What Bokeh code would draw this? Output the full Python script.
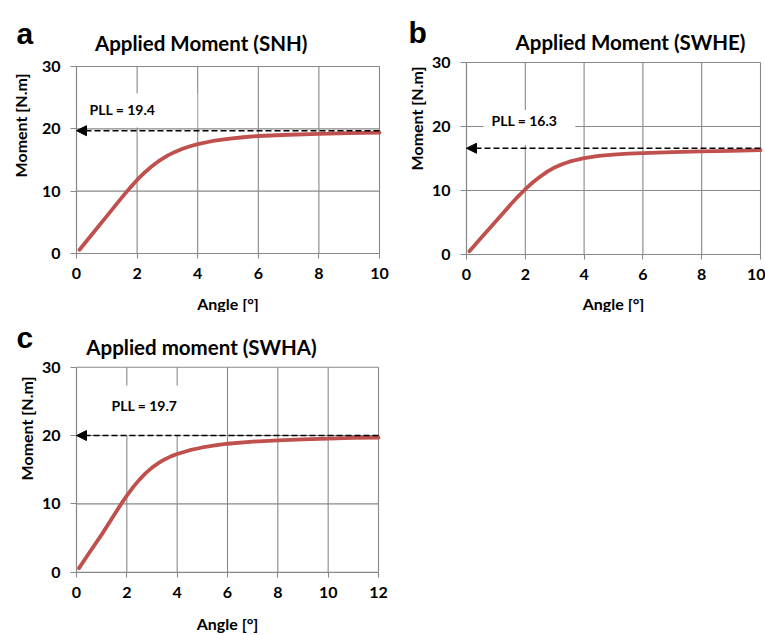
import math
from bokeh.plotting import figure
from bokeh.layouts import row, column
from bokeh.models import Range1d, FixedTicker, Label, Arrow, NormalHead
from bokeh.embed import file_html
from bokeh.resources import INLINE

# ---------------- data ----------------
angle_ab = [0.1, 0.5, 1.0, 1.5, 1.75, 2.0, 2.25, 2.5, 2.75, 3.0, 3.25, 3.5, 3.75, 4.0,
            4.5, 5.0, 5.5, 6.0, 7.0, 8.0, 9.0, 10.0]
moment_snh = [0.6, 3.0, 6.0, 9.0, 10.45, 11.8, 13.0, 14.05, 14.95, 15.7, 16.3, 16.8, 17.2, 17.55,
              18.05, 18.4, 18.65, 18.85, 19.05, 19.2, 19.3, 19.4]
moment_swhe = [0.5, 2.6, 5.2, 7.8, 9.05, 10.2, 11.25, 12.15, 12.95, 13.6, 14.1, 14.5, 14.8, 15.05,
               15.4, 15.6, 15.75, 15.85, 16.0, 16.1, 16.2, 16.3]
angle_c = [0.1, 0.5, 1.0, 1.5, 1.75, 2.0, 2.25, 2.5, 2.75, 3.0, 3.25, 3.5, 3.75, 4.0,
           4.5, 5.0, 5.5, 6.0, 7.0, 8.0, 9.0, 10.0, 11.0, 12.0]
moment_swha = [0.6, 2.8, 5.5, 8.4, 9.85, 11.2, 12.45, 13.55, 14.5, 15.3, 15.95, 16.5, 16.95, 17.3,
               17.85, 18.25, 18.55, 18.8, 19.1, 19.3, 19.45, 19.55, 19.65, 19.7]

panel_letters = ["a", "b", "c"]
titles = ["Applied Moment (SNH)", "Applied Moment (SWHE)", "Applied moment (SWHA)"]
pll_texts = ["PLL = 19.4", "PLL = 16.3", "PLL = 19.7"]
pll_arrow_y = [19.7, 16.6, 20.0]
x_max = [10, 10, 12]
x_ticks_ab = [0, 2, 4, 6, 8, 10]
x_ticks_c = [0, 2, 4, 6, 8, 10, 12]
y_ticks = [0, 10, 20, 30]
y_max = 30
x_label = "Angle [°]"
y_label = "Moment [N.m]"

FONT = "Lato"
GRID = "#888888"
RED = "#C0504D"


def make_panel(xs, ys, idx, xticks, W, H, box, pll_pos, pll_pad,
               title_pos, ylab_pos, letter_pos, tick_standoff, xlab_standoff):
    # box = pixel position of the data area inside this canvas: left, right, top, bottom
    x0, x1, yt, yb = box
    xm = x_max[idx]
    sx = (x1 - x0) / xm
    sy = (yb - yt) / y_max
    p = figure(width=W, height=H, output_backend="svg", toolbar_location=None,
               x_range=Range1d(-x0 / sx, xm + (W - x1) / sx),
               y_range=Range1d(-(H - yb) / sy, y_max + yt / sy),
               min_border=0)
    p.outline_line_color = None
    p.background_fill_color = "white"
    p.border_fill_color = "white"
    p.xgrid.visible = False
    p.ygrid.visible = False

    # grid lines (from the tick lists)
    p.segment(x0=xticks, y0=[0] * len(xticks), x1=xticks, y1=[y_max] * len(xticks),
              line_color=GRID, line_width=1.1)
    p.segment(x0=[0] * len(y_ticks), y0=y_ticks, x1=[xm] * len(y_ticks), y1=y_ticks,
              line_color=GRID, line_width=1.1)

    xa, ya = p.xaxis[0], p.yaxis[0]
    xa.fixed_location = 0
    ya.fixed_location = 0
    xa.bounds = (0, xm)
    ya.bounds = (0, y_max)
    for ax in (xa, ya):
        ax.axis_line_color = GRID
        ax.axis_line_width = 1.1
        ax.major_tick_line_color = GRID
        ax.major_tick_line_width = 1.1
        ax.major_tick_in = 0
        ax.minor_tick_line_color = None
        ax.major_label_text_font = FONT
        ax.major_label_text_font_style = "bold"
        ax.major_label_text_font_size = "16px"
        ax.major_label_text_color = "black"
    xa.ticker = FixedTicker(ticks=xticks)
    ya.ticker = FixedTicker(ticks=y_ticks)
    xa.major_tick_out = 5
    ya.major_tick_out = 6
    xa.major_label_standoff = tick_standoff
    ya.major_label_standoff = 10
    xa.axis_label = x_label
    xa.axis_label_text_font = FONT
    xa.axis_label_text_font_style = "bold"
    xa.axis_label_text_font_size = "16px"
    xa.axis_label_text_color = "black"
    xa.axis_label_standoff = xlab_standoff

    # curve
    p.line(xs, ys, line_color=RED, line_width=3.8, line_cap="round", line_join="round")

    # PLL label with white box
    p.add_layout(Label(x=pll_pos[0], y=pll_pos[1], x_units="screen", y_units="screen",
                       text=pll_texts[idx], text_color="black",
                       text_font=FONT, text_font_style="bold", text_font_size="14px",
                       text_align="left", text_baseline="middle",
                       background_fill_color="white", padding=pll_pad))

    # dashed arrow
    p.add_layout(Arrow(x_start=xm, y_start=pll_arrow_y[idx], x_end=0, y_end=pll_arrow_y[idx],
                       line_color="black", line_width=1.6, line_dash="6 3",
                       end=NormalHead(size=10, fill_color="black", line_color="black", line_width=1)))

    # title
    p.add_layout(Label(x=title_pos[0], y=title_pos[1], x_units="screen", y_units="screen",
                       text=titles[idx], text_color="black", text_font=FONT, text_font_style="bold",
                       text_font_size="20.5px", text_align="center", text_baseline="middle"))
    # y axis title
    p.add_layout(Label(x=ylab_pos[0], y=ylab_pos[1], x_units="screen", y_units="screen",
                       text=y_label, angle=math.pi / 2, text_color="black", text_font=FONT,
                       text_font_style="bold", text_font_size="16px",
                       text_align="center", text_baseline="middle"))
    # panel letter
    p.add_layout(Label(x=letter_pos[0], y=letter_pos[1], x_units="screen", y_units="screen",
                       text=panel_letters[idx], text_color="black", text_font="Liberation Sans",
                       text_font_style="bold", text_font_size="30px",
                       text_align="left", text_baseline="alphabetic"))
    return p


pa = make_panel(angle_ab, moment_snh, 0, x_ticks_ab, 390, 312, (76, 379, 66, 253),
                (80, 202), (9, 42, 7, 10), (200.7, 270), (20, 187), (16, 279), 9, 12)
pb = make_panel(angle_ab, moment_swhe, 1, x_ticks_ab, 375, 312, (76, 370, 62, 254),
                (93, 185), (8, 18, 2, 16), (240, 271), (26, 194), (18, 280), 9, 11)
pc = make_panel(angle_c, moment_swha, 2, x_ticks_c, 390, 323, (76, 378, 54.7, 259.7),
                (100, 225), (11, 15, 11, 22), (201, 289), (26, 207), (16, 298), 10, 12)

layout = row(column(pa, pc), pb)
open("out.html", "w").write(file_html(layout, INLINE))
